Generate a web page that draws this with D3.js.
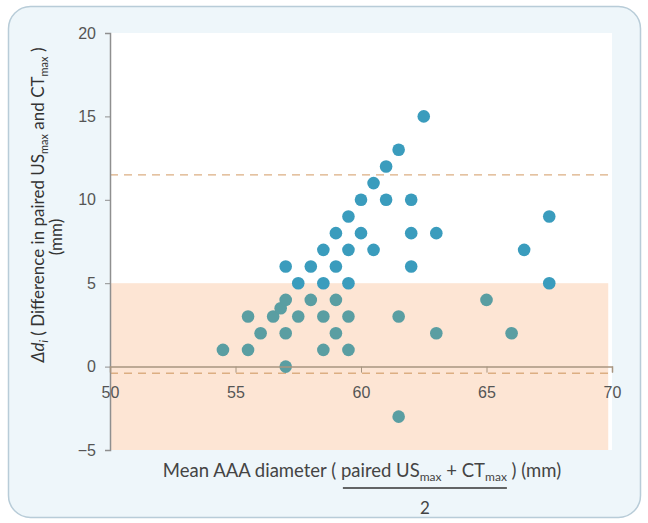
<!DOCTYPE html>
<html>
<head>
<meta charset="utf-8">
<script src="https://cdn.jsdelivr.net/npm/d3@7"></script>
<style>
  body { margin: 0; background: #fff; }
  svg { display: block; font-family: Lato, 'Open Sans', sans-serif; }
  .tick text { fill: #555; font-size: 16px; }
</style>
</head>
<body>
<div id="chart"></div>
<script>
'use strict';

// mean diameter (mm) of each pair
var meanDiameter = [
  54.5, 55.5, 55.5, 56, 56.5, 56.8, 57, 57, 57, 57,
  57.5, 57.5, 58, 58, 58.5, 58.5, 58.5, 58.5, 59, 59,
  59, 59, 59.5, 59.5, 59.5, 59.5, 59.5, 60, 60, 60.5,
  60.5, 61, 61, 61.5, 61.5, 61.5, 62, 62, 62, 62.5,
  63, 63, 65, 66, 66.5, 67.5, 67.5
];
// difference (mm) of each pair
var diffValues = [
  1, 1, 3, 2, 3, 3.5, 4, 6, 2, 0,
  5, 3, 6, 4, 7, 5, 3, 1, 8, 6,
  4, 2, 9, 7, 5, 3, 1, 10, 8, 11,
  7, 12, 10, 13, 3, -3, 10, 8, 6, 15,
  8, 2, 4, 2, 7, 9, 5
];

var xTicks = [ 50, 55, 60, 65, 70 ];
var yTicks = [ -5, 0, 5, 10, 15, 20 ];
var upperLimit = 11.5,
    lowerLimit = -0.4,
    bandTop = 5,
    bandBottom = -5;

var baseWidth = 648,
    baseHeight = 523,
    margin = { top: 33, right: 36, bottom: 73, left: 110 };

var width = baseWidth - margin.left - margin.right,
    height = baseHeight - margin.top - margin.bottom;

var x = d3.scaleLinear().domain( [ 50, 70 ] ).range( [ 0, width ] );
var y = d3.scaleLinear().domain( [ -5, 20 ] ).range( [ height, 0 ] );

var root = d3.select( '#chart' )
  .append( 'svg' )
    .attr( 'width', baseWidth )
    .attr( 'height', baseHeight );

// outer panel
root.append( 'rect' )
  .attr( 'x', 8.5 )
  .attr( 'y', 6.5 )
  .attr( 'width', 632 )
  .attr( 'height', 511 )
  .attr( 'rx', 22 )
  .attr( 'fill', '#eef6fa' )
  .attr( 'stroke', '#b8ccd8' )
  .attr( 'stroke-width', 1.5 );

var svg = root.append( 'g' )
  .attr( 'transform', 'translate(' + margin.left + ',' + margin.top + ')' );

// plot area
svg.append( 'rect' )
  .attr( 'width', width )
  .attr( 'height', height )
  .attr( 'fill', '#fff' );

// shaded band
svg.append( 'rect' )
  .attr( 'x', 0 )
  .attr( 'y', y( bandTop ) )
  .attr( 'width', x( 69.85 ) )
  .attr( 'height', y( bandBottom ) - y( bandTop ) )
  .attr( 'fill', '#fde5d4' );

// limits of agreement
[ upperLimit, lowerLimit ].forEach( function( v ) {
  svg.append( 'line' )
    .attr( 'x1', 0 )
    .attr( 'x2', width )
    .attr( 'y1', y( v ) )
    .attr( 'y2', y( v ) )
    .attr( 'stroke', '#dcae82' )
    .attr( 'stroke-width', 1.3 )
    .attr( 'stroke-dasharray', '8,6' );
} );

var data = meanDiameter.map( function( d, i ) {
  return { x: d, y: diffValues[i] };
} );

// dots inside the band look greyer in the original
svg.selectAll( 'circle.dot' )
  .data( data )
  .enter().append( 'circle' )
    .attr( 'class', 'dot' )
    .attr( 'cx', function( d ) { return x( d.x ); } )
    .attr( 'cy', function( d ) { return y( d.y ); } )
    .attr( 'r', 6.3 )
    .attr( 'fill', function( d ) { return d.y < bandTop ? '#5a9ea2' : '#3a9cbd'; } );

// Y axis
var yAxis = svg.append( 'g' )
  .call( d3.axisLeft( y ).tickValues( yTicks ).tickSize( 5 ).tickPadding( 9 ) );
yAxis.select( '.domain' ).attr( 'stroke', '#8f8f8f' ).attr( 'stroke-width', 1.5 );
yAxis.selectAll( '.tick line' ).attr( 'stroke', '#8f8f8f' );

// X axis sits on zero
var xAxis = svg.append( 'g' )
  .attr( 'transform', 'translate(0,' + y( 0 ) + ')' )
  .call( d3.axisBottom( x ).tickValues( xTicks ).tickSize( 6 ).tickSizeOuter( 6 ).tickPadding( 14 ) );
xAxis.select( '.domain' ).attr( 'stroke', '#a89580' ).attr( 'stroke-width', 1.5 );
xAxis.selectAll( '.tick line' ).attr( 'stroke', '#a89580' );

// y axis label
var yLabel = root.append( 'text' )
  .attr( 'transform', 'translate(44,205) rotate(-90)' )
  .attr( 'text-anchor', 'middle' )
  .attr( 'fill', '#333' )
  .attr( 'font-size', 17 );
yLabel.append( 'tspan' ).attr( 'font-style', 'italic' ).text( 'Δd' );
yLabel.append( 'tspan' ).attr( 'font-style', 'italic' ).attr( 'font-size', 11 ).attr( 'dy', 4 ).text( 'i' );
yLabel.append( 'tspan' ).attr( 'dy', -4 ).text( ' ( Difference in paired US' );
yLabel.append( 'tspan' ).attr( 'font-size', 11 ).attr( 'dy', 4 ).text( 'max' );
yLabel.append( 'tspan' ).attr( 'dy', -4 ).text( ' and CT' );
yLabel.append( 'tspan' ).attr( 'font-size', 11 ).attr( 'dy', 4 ).text( 'max' );
yLabel.append( 'tspan' ).attr( 'dy', -4 ).text( ' )' );

root.append( 'text' )
  .attr( 'transform', 'translate(62,237) rotate(-90)' )
  .attr( 'text-anchor', 'middle' )
  .attr( 'fill', '#333' )
  .attr( 'font-size', 17 )
  .text( '(mm)' );

// x axis label
var xLabel = root.append( 'text' )
  .attr( 'x', 362 )
  .attr( 'y', 477 )
  .attr( 'text-anchor', 'middle' )
  .attr( 'fill', '#444' )
  .attr( 'font-size', 18.5 );
xLabel.append( 'tspan' ).text( 'Mean AAA diameter ( ' );
var fracStart = xLabel.append( 'tspan' ).text( 'paired US' );
xLabel.append( 'tspan' ).attr( 'font-size', 12 ).attr( 'dy', 4 ).text( 'max' );
xLabel.append( 'tspan' ).attr( 'dy', -4 ).text( ' + CT' );
var fracEnd = xLabel.append( 'tspan' ).attr( 'font-size', 12 ).attr( 'dy', 4 ).text( 'max' );
xLabel.append( 'tspan' ).attr( 'dy', -4 ).text( ' ) (mm)' );

var b0 = fracStart.node().getBBox(),
    b1 = fracEnd.node().getBBox();
var x0 = b0.x + 2,
    x1 = b1.x + b1.width;

root.append( 'line' )
  .attr( 'x1', x0 )
  .attr( 'x2', x1 )
  .attr( 'y1', 488 )
  .attr( 'y2', 488 )
  .attr( 'stroke', '#333' )
  .attr( 'stroke-width', 1.6 );

root.append( 'text' )
  .attr( 'x', ( x0 + x1 ) / 2 )
  .attr( 'y', 514 )
  .attr( 'text-anchor', 'middle' )
  .attr( 'fill', '#444' )
  .attr( 'font-size', 17 )
  .text( '2' );
</script>
</body>
</html>
